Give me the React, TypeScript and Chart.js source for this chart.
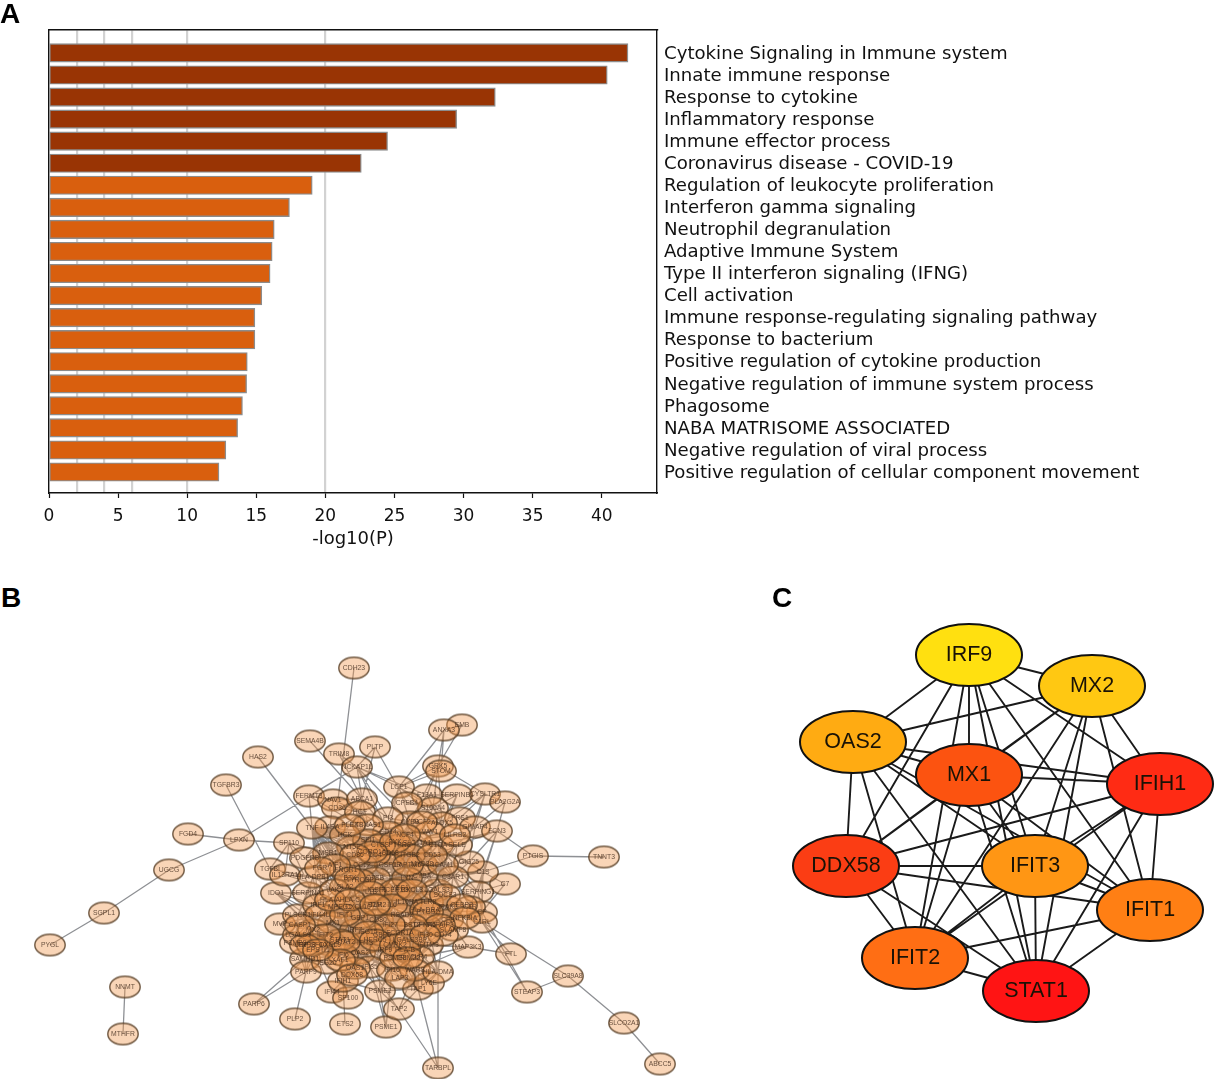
import React, { useEffect, useRef } from "react";
import { Chart, registerables } from "chart.js";
Chart.register(...registerables);

// ---------- Panel A ----------
const termNames = [
  "Cytokine Signaling in Immune system", "Innate immune response", "Response to cytokine",
  "Inflammatory response", "Immune effector process", "Coronavirus disease - COVID-19",
  "Regulation of leukocyte proliferation", "Interferon gamma signaling", "Neutrophil degranulation",
  "Adaptive Immune System", "Type II interferon signaling (IFNG)", "Cell activation",
  "Immune response-regulating signaling pathway", "Response to bacterium",
  "Positive regulation of cytokine production", "Negative regulation of immune system process",
  "Phagosome", "NABA MATRISOME ASSOCIATED", "Negative regulation of viral process",
  "Positive regulation of cellular component movement",
];
const termLog10P = [41.9, 40.4, 32.3, 29.5, 24.5, 22.6, 19.05, 17.4, 16.3, 16.15, 16.0, 15.4, 14.9, 14.9, 14.35, 14.3, 14.0, 13.65, 12.8, 12.3];
const darkTermCount = 6;
const xTickValues = [0, 5, 10, 15, 20, 25, 30, 35, 40];
const thresholdLines = [2, 4, 6, 10, 20];

// ---------- Panel B ----------
const netNames = [
  "CDH23","EMB","ANXA3","SEMA4B","TRIM8","PLTP","HAS2","NCKAP1L","LCP1","GRK5","STOM","TGFBR3","FERMT3","NAV1","CD36","ABCA1","HGF","F13A1","SERPINB1","CYSLTR1","PLA2G2A","S100A4","CPEB4","FRS1","GIMAP4","FCN3","ALOX5","CYBB","PI3","CD14","TBXAS1","IL4RA","TNF","SP110","LPXN","FGD4","UGCG","SGPL1","PYGL","NNMT","MTHFR","PTGIS","TNNT3","C7","C1S","GIG25","SERPING1","CP","C1R","C1RL","FTL","SLC39A8","STEAP3","SLCO2A1","ABCC5","TARBPL","MAP3K3","PARP6","PLP2","ETS2","PSME1","TAP2","PSME2","TAP1","LY6E","IFI44","SP100","IFIH1","IDO1","MVP","TGFBI","IL13RA1","PLSCR1","SAMHD1","PARP9","PSMB9","LGALS9","SERPINA1","IRF1","HLA-DPB1","SLA2","IGSF6","YES1","LGALS3","C3AR1","CYBA","MYD88","ICAM1","C1QA","SLC11A1","SELE","CD68","CSF1R","CCL2","NT5E","SPI1","MSR1","PDGFRB","CXCL10","MPEG1","TLR2","IL10RA","TLR8","IRAK3","CFB","SLAMF8","CD80","DFNA5","MX1","MX2","IRF7","FCGR1A","IFIT3","CXCL9","OAS2","IFITM3","IRF9","IFI35","IFI16","TLR4","WARS","HLA-DMA","ISG20","IFI6","STAT1","PTPRC","CTSB","LYN","FCER1G","TYROBP","ITGB2","CD4","IFNGR1","JAK2","GBP1","GBP5","STAT2","OAS1","IFI44L","RSAD2","CD74","HLA-DRA","HLA-B","PSMB8","TNFSF10",
  "CTSS","HCK","SYK","VAV1","NCF2","NCF4","LILRB2","PLEK","CORO1A","LAPTM5","CD53","CD86","AIF1","FGR","BTK","IL1B","IL6","CXCL8","PTGS2","SOCS3","CEBPB","NFKBIA","TNFAIP3","BST2","IFI27","ISG15","IFIT1","IFIT2","USP18","XAF1","HERC5","CMPK2","LGALS3BP","EPSTI1","DDX58","TRIM22","IFI30","LAP3","CASP1","HLA-A","HLA-C","B2M",
];
const netX = [
  354,462,444,310,339,375,258,357,399,438,441,226,309,333,337,362,360,427,457,485,505,433,407,460,475,497,442,410,388,388,368,330,312,289,239,188,169,104,50,125,123,533,604,505,483,469,478,482,470,482,511,568,527,624,660,438,468,254,295,345,386,399,380,418,429,332,348,343,276,280,270,285,298,305,306,295,298,308,318,313,345,377,400,437,453,422,422,443,438,417,457,390,390,362,352,368,328,305,358,340,378,407,428,448,448,453,378,425,333,313,355,400,365,330,360,428,385,370,392,419,415,438,327,343,340,400,375,407,395,360,410,375,345,335,360,382,345,355,320,402,443,425,405,395,312,
  380,345,395,430,422,405,455,350,372,408,432,355,335,320,350,370,392,412,428,445,462,465,440,412,390,368,345,325,305,340,375,395,410,318,352,408,425,400,300,330,350,375,
];
const netY = [
  668,725,730,741,754,747,757,767,787,766,771,785,796,800,808,799,812,795,795,794,802,808,803,818,827,831,823,822,818,832,825,827,828,843,840,834,870,913,945,987,1034,856,857,884,872,862,892,912,907,922,954,976,992,1023,1064,1068,947,1004,1019,1024,1027,1009,991,989,983,992,998,981,893,924,869,875,915,959,972,943,935,893,905,877,887,890,888,890,877,876,864,865,845,843,845,853,865,865,847,840,853,858,907,907,905,902,902,907,920,930,920,925,923,930,930,933,943,945,953,945,950,967,970,957,970,972,963,955,940,845,878,878,890,880,855,855,870,890,918,935,942,968,915,915,935,910,950,958,945,
  845,835,842,832,822,835,835,825,852,865,855,855,865,868,878,892,905,890,912,895,905,918,925,925,925,932,915,935,945,960,940,945,940,950,975,958,935,978,925,900,900,905,
];
const netAdjacency = [
  "CDH23: CD36", "SEMA4B: ABCA1", "HAS2: TNF", "TGFBR3: TGFBI", "LPXN: FGD4 UGCG NCKAP1L SP110", "UGCG: SGPL1", "SGPL1: PYGL", "NNMT: MTHFR",
  "PTGIS: TNNT3 FCN3 C1S", "FTL: MAP3K3 C1RL", "STEAP3: C1RL CP SLC39A8", "SLC39A8: C1RL SLCO2A1", "SLCO2A1: ABCC5",
  "PARP6: SAMHD1 PARP9", "PLP2: PARP9", "TARBPL: TAP1 HLA-DMA IFI35", "ETS2: IFIH1", "PSME1: PSME2 IFI35 IFI16", "TAP2: TAP1 PSME2 WARS",
  "EMB: ANXA3 GRK5", "ANXA3: GRK5 STOM LCP1", "PLA2G2A: FCN3 GIMAP4 CYSLTR1", "MAP3K3: IFITM3 TLR4 WARS CFB", "C7: C1S CP SERPING1",
  "TRIM8: NCKAP1L ABCA1", "PLTP: NCKAP1L ABCA1 CPEB4", "NCKAP1L: LCP1 ABCA1 CYBB CD14 PI3 F13A1 FERMT3", "LCP1: CYBB PI3 CD14 S100A4 ALOX5 GRK5 STOM",
  "GRK5: S100A4 F13A1 CYSLTR1 CYBB ALOX5", "SP110: PDGFRB MSR1 IL13RA1 IRF1 TGFBI", "FERMT3: NAV1 TNF ITGB2", "IDO1: IRF1 CXCL9 STAT1 PLSCR1 MX1", "MVP: PSMB9 IRF1 MX2 IFI44L",
  "SERPINB1: F13A1 S100A4 C1QA ALOX5", "CYSLTR1: GIMAP4 FRS1 ALOX5 C3AR1", "GIMAP4: FRS1 SELE GIG25", "FCN3: GIG25 SELE C1S SERPING1 C1QA", "C1S: C1R SERPING1 GIG25 CP C3AR1",
  "CP: C1R C1RL CFB SERPING1 HLA-DRA", "PSME2: IFI16 TAP1 PSMB8 IFIH1 STAT1", "TAP1: TLR4 HLA-DMA WARS PSMB8 IFI16 HLA-B", "IFIH1: IFI44 SP100 OAS1 IFI35 ISG20", "IFI44: SP100 IFIH1 OAS1 TNFSF10",
  "PARP9: SAMHD1 ISG20 TNFSF10 PSMB9", "SAMHD1: MX2 OAS1 ISG20 CXCL9 IFI6",
  "CD14: TLR4 TLR2 TLR8 MYD88 CCL2 TNF CD68 CD4 ITGB2 FCER1G TYROBP PTPRC CYBB CYBA C3AR1 CTSB LYN CSF1R SPI1 CD80 HLA-DRA IL10RA ICAM1 MSR1",
  "TNF: CCL2 ICAM1 CXCL10 CD80 IL10RA TLR4 TLR2 MYD88 IRF1 IRF7 STAT1 CXCL9 JAK2 CD4 ITGB2 SELE PTPRC IFNGR1 SPI1 LYN",
  "PTPRC: CD68 CD4 CSF1R LYN TYROBP FCER1G ITGB2 CYBB CYBA MYD88 CTSB CCL2 C3AR1 SLC11A1 ICAM1 HLA-DRA YES1 IGSF6",
  "ITGB2: TYROBP FCER1G CD68 LYN ICAM1 CD4 C1QA CSF1R CYBA MYD88 C3AR1 CCL2 YES1 LGALS3 SLC11A1 CTSB",
  "FCER1G: TYROBP LYN CSF1R CD68 CYBA CYBB CTSB MYD88 IGSF6 YES1 TLR2 IL10RA TLR8 C1QA FCGR1A CD74 SLAMF8",
  "TYROBP: CSF1R LYN CD68 IGSF6 SLA2 CTSB CCL2 MYD88 JAK2 TLR2 GBP1 YES1 IFNGR1",
  "LYN: CSF1R CD4 YES1 MYD88 CYBA C3AR1 IL10RA TLR2 TLR4 IRAK3 ICAM1 LGALS3",
  "CSF1R: CD68 CCL2 CD4 CTSB YES1 IGSF6 MYD88 SPI1 C3AR1 IL10RA",
  "CCL2: CXCL10 ICAM1 TLR4 TLR2 MYD88 CD68 CD4 CXCL9 IRF7 STAT1 JAK2 IFNGR1 NT5E",
  "CXCL10: CXCL9 STAT1 IRF7 IRF1 IRF9 GBP1 GBP5 STAT2 CD80 TLR4 TLR2 TLR8 MX1 IFIT3 OAS2 IFI6 ISG20 IFI44L RSAD2 IFITM3 HLA-B",
  "STAT1: IRF1 IRF7 IRF9 STAT2 MX1 MX2 OAS1 OAS2 IFIT3 IFI35 IFI16 IFI6 IFI44L ISG20 RSAD2 GBP1 GBP5 CXCL9 JAK2 IFNGR1 IFITM3 PSMB9 PSMB8 TAP1 HLA-B HLA-DRA LGALS9 SAMHD1 PLSCR1",
  "IRF7: IRF9 IRF1 STAT2 MX1 MX2 OAS1 OAS2 IFIT3 IFI35 IFI6 IFI44L RSAD2 ISG20 GBP1 TLR4 TLR8 TLR2 MYD88 IFIH1 IFITM3 PLSCR1 SAMHD1 LGALS9",
  "MX1: MX2 IRF9 OAS1 OAS2 IFIT3 IFI6 IFI35 IFI44L RSAD2 GBP1 ISG20 STAT2 IFITM3 PLSCR1 IFIH1 PARP9 TNFSF10",
  "OAS2: OAS1 IFIT3 IRF9 STAT2 IFI35 IFI6 IFI44L RSAD2 IFI16 IFIH1 ISG20 MX2 IFITM3 HLA-B",
  "IFIT3: IRF9 STAT2 IFI35 IFI6 IFI44L RSAD2 IFI16 IFITM3 GBP5 HLA-B PSMB8 TLR4 WARS FCGR1A",
  "IRF9: STAT2 IFI35 IFI16 IFITM3 RSAD2 GBP5 WARS TLR4 HLA-B PSMB8 DFNA5 FCGR1A CD80",
  "FCGR1A: TLR4 CD74 HLA-DRA CD80 GBP5 TLR2 TLR8 IFITM3 SLAMF8 CFB HLA-B RSAD2 IRAK3 HLA-DMA",
  "TLR4: TLR2 TLR8 MYD88 IRAK3 CD80 IFITM3 HLA-DRA DFNA5 HLA-B CD74 WARS CFB GBP5 RSAD2 IL10RA",
  "TLR2: TLR8 MYD88 IRAK3 CD80 IL10RA HLA-DRA DFNA5 CYBA C3AR1 YES1 ICAM1 RSAD2",
  "MYD88: IRAK3 TLR8 ICAM1 CYBA C3AR1 C1QA YES1 LGALS3 SLC11A1 SELE CD68",
  "CD74: HLA-DRA HLA-DMA HLA-B IRAK3 CFB SLAMF8 DFNA5 IFITM3 TLR8",
  "CYBB: CYBA ALOX5 SLC11A1 C1QA PI3 S100A4 TBXAS1 CD68 ICAM1 MYD88",
  "C1QA: C3AR1 ICAM1 SELE GIG25 C1R SERPING1 CFB C1S SLC11A1",
  "C3AR1: CFB C1R SERPING1 ICAM1 GIG25 LGALS3 IRAK3 SELE",
  "ICAM1: SELE GIG25 IL10RA HLA-DRA CFB LGALS3 IRAK3 ALOX5 HGF",
  "GBP1: GBP5 STAT2 IFI44L JAK2 IRF1 RSAD2 CD80 IFNGR1",
  "JAK2: IFNGR1 IRF1 STAT2 SLA2 IGSF6 PDGFRB HLA-DPB1 IL13RA1 IL4RA",
  "HLA-DPB1: SERPINA1 IRF1 IL13RA1 TGFBI CD4 JAK2 IFNGR1 MSR1 PLSCR1",
  "MSR1: IL4RA NT5E IFNGR1 PDGFRB TBXAS1 CD4 SPI1 HGF",
  "ABCA1: HGF NAV1 CD36 TBXAS1 PI3 CD14 IL4RA",
  "HGF: CD36 NAV1 TBXAS1 PDGFRB NT5E CCL2",
  "IL4RA: NAV1 TNF TBXAS1 NT5E CD4 PDGFRB",
  "S100A4: F13A1 CPEB4 ALOX5 FRS1 SLC11A1",
  "F13A1: CPEB4 ALOX5 S100A4 CYBB",
  "WARS: HLA-DMA TLR4 IFI16 LY6E HLA-B TAP1",
  "HLA-DMA: HLA-B CD74 HLA-DRA IFITM3 LY6E",
  "SERPINA1: PLSCR1 IDO1 IFNGR1 IRF1",
  "PLSCR1: IRF1 IFI44L MX2 LGALS9 PSMB9 IFI6",
  "ISG15: IFIT1 IFIT2 USP18 XAF1 HERC5 CMPK2 LGALS3BP EPSTI1 DDX58 TRIM22 BST2 IFI27 MX1 MX2 OAS1 OAS2 STAT1 IRF7 IFIT3 RSAD2 IFI44L IFI6 LAP3 IFI30",
  "HERC5: IFIT1 IFIT2 USP18 XAF1 CMPK2 DDX58 RSAD2 IFI44L BST2 IFI27 EPSTI1 TRIM22 OAS1",
  "IL1B: IL6 CXCL8 PTGS2 SOCS3 CEBPB NFKBIA TNFAIP3 CCL2 TNF CD14 TLR2 TLR4 MYD88 ICAM1 CASP1 IL10RA HCK SYK CXCL10",
  "IL6: CXCL8 PTGS2 SOCS3 CEBPB NFKBIA TNFAIP3 CCL2 TNF TLR4 TLR2 ICAM1 STAT1 IRF1 B2M",
  "CXCL8: PTGS2 SOCS3 NFKBIA TNFAIP3 CEBPB ICAM1 TLR4 CCL2 CD14 MYD88 LYN",
  "SYK: HCK LYN BTK VAV1 PTPRC FCER1G TYROBP ITGB2 CD4 CORO1A LAPTM5 NCF2 NCF4 PLEK LILRB2 CD53 CD86 FGR AIF1 CTSS",
  "CTSS: CORO1A LAPTM5 CD53 CD86 AIF1 FGR BTK HCK NCF2 NCF4 CD68 CD14 CSF1R",
  "CD53: LAPTM5 CORO1A CD86 AIF1 NCF2 NCF4 VAV1 BTK HCK",
  "HLA-A: HLA-B HLA-C B2M HLA-DRA TAP1 PSMB8 PSMB9 LGALS9 CD74 STAT1",
  "B2M: HLA-B HLA-C TAP1 PSMB8 PSMB9 PSME2 IFI30 HLA-DRA",
];

// ---------- Panel C ----------
const hubNames = ["IRF9","MX2","OAS2","MX1","IFIH1","DDX58","IFIT3","IFIT1","IFIT2","STAT1"];
const hubX = [969,1092,853,969,1160,846,1035,1150,915,1036];
const hubY = [655,686,742,775,784,866,866,910,958,991];
const hubColors = ["#FFE010","#FFC812","#FFAB12","#FC5310","#FF2B14","#FB3D14","#FF9614","#FF7F14","#FF6E14","#FF1414"];
const hubEdges = [
  "IRF9: MX2 OAS2 MX1 IFIH1 DDX58 IFIT3 IFIT1 IFIT2 STAT1",
  "MX2: OAS2 MX1 IFIH1 DDX58 IFIT3 IFIT1 IFIT2 STAT1",
  "OAS2: MX1 IFIH1 DDX58 IFIT3 IFIT1 IFIT2 STAT1",
  "MX1: IFIH1 DDX58 IFIT3 IFIT1 IFIT2 STAT1",
  "IFIH1: DDX58 IFIT3 IFIT1 IFIT2 STAT1",
  "DDX58: IFIT3 IFIT1 IFIT2 STAT1",
  "IFIT3: IFIT1 IFIT2 STAT1",
  "IFIT1: IFIT2 STAT1",
  "IFIT2: STAT1",
];

const SANS = '"DejaVu Sans"';
const ARIAL = '"Liberation Sans"';

function sprite(rx: number, ry: number, fill: string, stroke: string, lw: number) {
  const c = document.createElement("canvas");
  c.width = Math.ceil(2 * rx + lw + 2);
  c.height = Math.ceil(2 * ry + lw + 2);
  const g = c.getContext("2d")!;
  g.beginPath();
  g.ellipse(c.width / 2, c.height / 2, rx, ry, 0, 0, Math.PI * 2);
  g.fillStyle = fill;
  g.fill();
  g.lineWidth = lw;
  g.strokeStyle = stroke;
  g.stroke();
  return c;
}

function edgeSegments(adj: string[], names: string[], xs: number[], ys: number[]) {
  const pts: { x: number; y: number }[] = [];
  for (const row of adj) {
    const [from, rest] = row.split(": ");
    const a = names.indexOf(from);
    for (const to of rest.split(" ")) {
      const b = names.indexOf(to);
      if (a < 0 || b < 0) continue;
      pts.push({ x: xs[a], y: ys[a] }, { x: xs[b], y: ys[b] }, { x: NaN, y: NaN });
    }
  }
  return pts;
}

function labelPlugin(names: string[], xs: number[], ys: number[], font: string, color: string) {
  return {
    id: "nodeLabels",
    afterDatasetsDraw(chart: any) {
      const { ctx, scales } = chart;
      ctx.save();
      ctx.font = font;
      ctx.fillStyle = color;
      ctx.textAlign = "center";
      ctx.textBaseline = "middle";
      names.forEach((n, i) => ctx.fillText(n, scales.x.getPixelForValue(xs[i]), scales.y.getPixelForValue(ys[i])));
      ctx.restore();
    },
  };
}

function networkChart(
  canvas: HTMLCanvasElement, names: string[], xs: number[], ys: number[], adj: string[],
  styles: any, xRange: number[], yRange: number[], edgeColor: string, edgeWidth: number, font: string, textColor: string,
) {
  return new Chart(canvas, {
    type: "scatter",
    data: {
      datasets: [
        {
          data: names.map((_, i) => ({ x: xs[i], y: ys[i] })),
          pointStyle: styles, pointRadius: 6, showLine: false, order: 1, clip: false,
        } as any,
        {
          data: edgeSegments(adj, names, xs, ys),
          showLine: true, pointRadius: 0, borderColor: edgeColor, borderWidth: edgeWidth, spanGaps: false, order: 2, clip: false,
        } as any,
      ],
    },
    options: {
      responsive: false, animation: false, events: [],
      layout: { padding: 0, autoPadding: false },
      plugins: { legend: { display: false }, tooltip: { enabled: false } },
      scales: {
        x: { type: "linear", display: false, min: xRange[0], max: xRange[1] },
        y: { type: "linear", display: false, reverse: true, min: yRange[0], max: yRange[1] },
      },
    },
    plugins: [labelPlugin(names, xs, ys, font, textColor)],
  } as any);
}

export default function App() {
  const aRef = useRef<HTMLCanvasElement>(null);
  const bRef = useRef<HTMLCanvasElement>(null);
  const cRef = useRef<HTMLCanvasElement>(null);

  useEffect(() => {
    document.body.style.margin = "0";
    document.body.style.background = "#fff";

    const barA = new Chart(aRef.current!, {
      type: "bar",
      data: {
        labels: termNames,
        datasets: [{
          data: termLog10P.map((v, i) => ({ x: v, y: i })),
          backgroundColor: termLog10P.map((_, i) => (i < darkTermCount ? "#993404" : "#D95F0E")),
          borderColor: "#8c8c8c", borderWidth: 1.4, borderSkipped: false, barThickness: 18.5,
        }],
      },
      options: {
        indexAxis: "y", responsive: false, animation: false, events: [],
        layout: { padding: { left: 49, top: 30 }, autoPadding: false },
        plugins: { legend: { display: false }, tooltip: { enabled: false } },
        scales: {
          x: {
            type: "linear", position: "bottom", min: 0, max: 44,
            afterBuildTicks: (s: any) => { s.ticks = xTickValues.map((value) => ({ value })); },
            grid: { display: true, drawOnChartArea: false, drawTicks: true, tickLength: 5, tickColor: "#111", tickWidth: 1.2 },
            border: { display: true, color: "#111", width: 1.4 },
            ticks: { color: "#111", padding: 8, font: { family: SANS, size: 17 }, maxRotation: 0 },
            title: { display: true, text: "-log10(P)", color: "#111", padding: 0, font: { family: SANS, size: 18 } },
            afterFit: (s: any) => { s.height = 57; },
          },
          x2: {
            type: "linear", position: "top", min: 0, max: 44,
            afterBuildTicks: (s: any) => { s.ticks = thresholdLines.map((value) => ({ value })); },
            grid: { display: true, drawTicks: false, color: "#d2d2d2", lineWidth: 2.2 },
            border: { display: true, color: "#111", width: 1.4 },
            ticks: { display: false },
            afterFit: (s: any) => { s.height = 0; },
          },
          y: {
            type: "linear", position: "right", reverse: true, min: -1.04, max: 19.95, offset: false,
            afterBuildTicks: (s: any) => { s.ticks = termNames.map((_, value) => ({ value })); },
            grid: { display: false, drawTicks: false, offset: false },
            border: { display: true, color: "#111", width: 1.4 },
            ticks: {
              autoSkip: false, color: "#111", padding: 7, labelOffset: 1, font: { family: SANS, size: 18.15 },
              callback: (v: any) => termNames[v as number],
            },
            afterFit: (s: any) => { s.width = 558; },
          },
          y2: {
            type: "linear", position: "left", min: 0, max: 1,
            grid: { display: false, drawTicks: false },
            border: { display: true, color: "#111", width: 1.4 },
            ticks: { display: false },
            afterFit: (s: any) => { s.width = 0; },
          },
        },
      },
    } as any);

    const netSprite = sprite(15.2, 10.8, "rgba(240,150,75,0.4)", "rgba(85,60,35,0.85)", 1.4);
    const netB = networkChart(
      bRef.current!, netNames, netX, netY, netAdjacency, netNames.map(() => netSprite),
      [0, 700], [640, 1079], "rgba(50,52,60,0.55)", 1.3, `6.8px ${ARIAL}`, "rgba(60,40,25,0.78)",
    );

    const netC = networkChart(
      cRef.current!, hubNames, hubX, hubY, hubEdges,
      hubColors.map((col) => sprite(53, 31, col, "#111", 2)),
      [770, 1215], [610, 1050], "#1a1a1a", 1.9, `21.5px ${ARIAL}`, "#1a1206",
    );

    return () => { barA.destroy(); netB.destroy(); netC.destroy(); };
  }, []);

  const letter = (text: string, left: number, top: number) => (
    <div style={{ position: "absolute", left, top, font: `bold 28px/28px ${ARIAL}`, color: "#000" }}>{text}</div>
  );

  return (
    <div style={{ position: "relative", width: 1215, height: 1079, overflow: "hidden", background: "#fff" }}>
      <canvas ref={aRef} width={1215} height={550} style={{ position: "absolute", left: 0, top: 0, filter: "blur(0.3px)" }} />
      <canvas ref={bRef} width={700} height={439} style={{ position: "absolute", left: 0, top: 640, filter: "blur(0.45px)" }} />
      <canvas ref={cRef} width={445} height={440} style={{ position: "absolute", left: 770, top: 610, filter: "blur(0.3px)" }} />
      {letter("A", 0, 0)}
      {letter("B", 1, 584)}
      {letter("C", 772, 584)}
    </div>
  );
}
